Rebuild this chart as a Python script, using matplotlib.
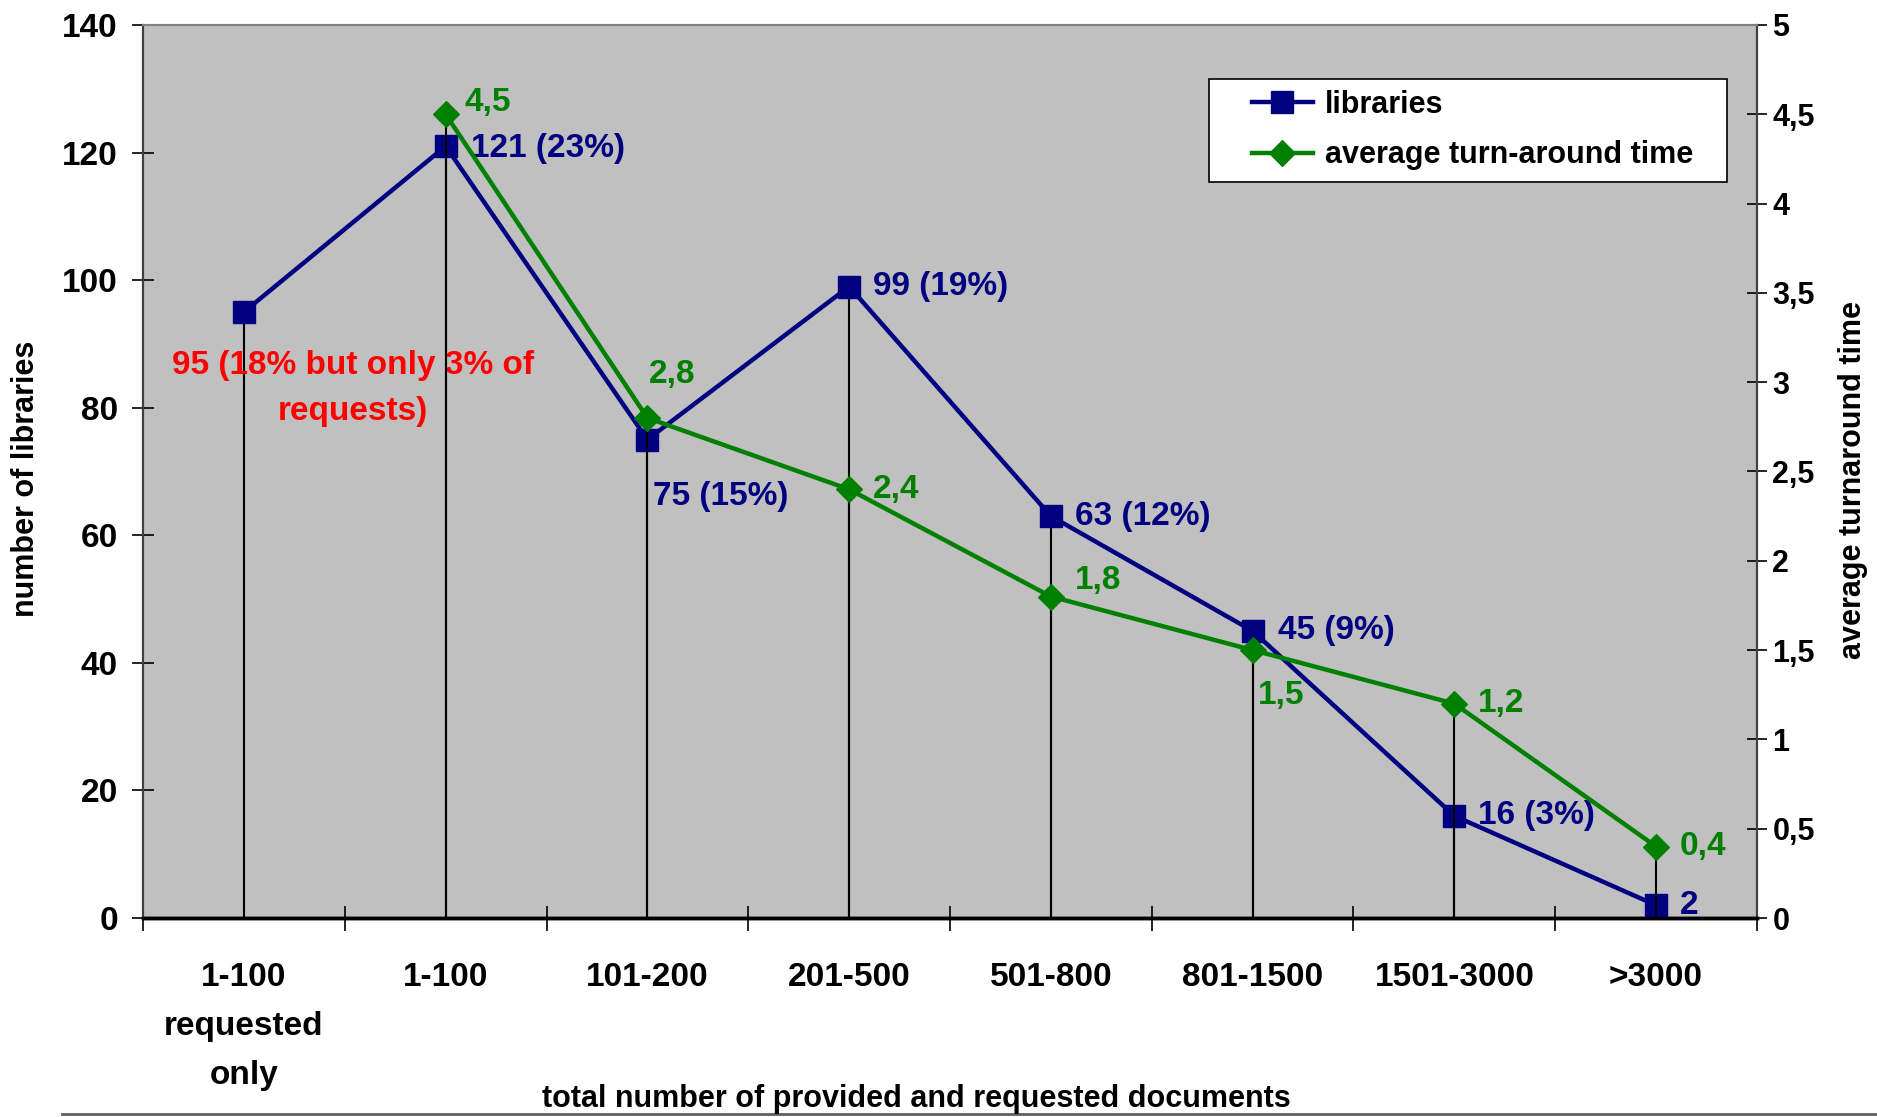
import matplotlib
matplotlib.use('Agg')
import matplotlib.pyplot as plt
from matplotlib.path import Path
from matplotlib.lines import Line2D
from matplotlib.patches import Rectangle

# ---------------- data ----------------
categories = ['1-100\nrequested\nonly', '1-100', '101-200', '201-500',
              '501-800', '801-1500', '1501-3000', '>3000']
libraries = [95, 121, 75, 99, 63, 45, 16, 2]
lib_labels = ['95 (18% but only 3% of\nrequests)', '121 (23%)', '75 (15%)', '99 (19%)',
              '63 (12%)', '45 (9%)', '16 (3%)', '2']
turn_idx = [1, 2, 3, 4, 5, 6, 7]
turnaround = [4.5, 2.8, 2.4, 1.8, 1.5, 1.2, 0.4]
turn_labels = ['4,5', '2,8', '2,4', '1,8', '1,5', '1,2', '0,4']
left_ticks = [0, 20, 40, 60, 80, 100, 120, 140]
right_ticks = [0, 0.5, 1, 1.5, 2, 2.5, 3, 3.5, 4, 4.5, 5]
right_tick_labels = ['0', '0,5', '1', '1,5', '2', '2,5', '3', '3,5', '4', '4,5', '5']

# ---------------- style ----------------
plt.rcParams['font.family'] = ['Liberation Sans', 'DejaVu Sans']
plt.rcParams['font.weight'] = 'bold'
FS = 24
NAVY = '#000080'
GREEN = '#008000'
BG = '#C0C0C0'

# label offsets in pixels (dx, dy)
lib_offsets = [None, (25, -2), (6, -57), (24, 0), (24, 0), (25, 0), (24, 0), (24, 0)]
turn_offsets = [(19, 12), (2, 43), (24, 0), (24, 16), (5, -45), (24, 0), (24, 0)]

W, H = 1877, 1117
fig = plt.figure(figsize=(W / 100, H / 100), dpi=100)
x0, x1, yt, yb = 143, 1757, 25, 918
ax = fig.add_axes([x0 / W, 1 - yb / H, (x1 - x0) / W, (yb - yt) / H])
ax.set_facecolor(BG)
ax2 = ax.twinx()

xs = list(range(len(categories)))
ax.set_xlim(-0.5, len(categories) - 0.5)
ax.set_ylim(0, 140)
ax2.set_ylim(0, 5)

# drop lines
ax.vlines(xs, 0, libraries, colors='black', lw=1.5, zorder=1)
ax2.vlines(turn_idx, 0, turnaround, colors='black', lw=1.5, zorder=1)

# series
ax.plot(xs, libraries, color=NAVY, lw=3.2, marker='s', ms=16.5, mfc=NAVY, mec=NAVY,
        zorder=3, clip_on=False)
diamond = Path([(0, 1), (1, 0), (0, -1), (-1, 0), (0, 1)],
               [Path.MOVETO, Path.LINETO, Path.LINETO, Path.LINETO, Path.CLOSEPOLY])
ax2.plot(turn_idx, turnaround, color=GREEN, lw=3.2, marker=diamond, ms=18.5, mfc=GREEN,
         mec=GREEN, zorder=3, clip_on=False)

# labels
for i, (v, lab) in enumerate(zip(libraries, lib_labels)):
    if i == 0:
        ax.text(0.54, 83, lab, color='red', fontsize=FS, fontweight='bold',
                ha='center', va='center', linespacing=1.65, zorder=2)
    else:
        ax.annotate(lab, (i, v), xytext=lib_offsets[i], textcoords='offset pixels',
                    color=NAVY, fontsize=FS, fontweight='bold', ha='left', va='center')
for k, (i, v, lab) in enumerate(zip(turn_idx, turnaround, turn_labels)):
    ax2.annotate(lab, (i, v), xytext=turn_offsets[k], textcoords='offset pixels',
                 color=GREEN, fontsize=FS, fontweight='bold', ha='left', va='center')

# axes ticks
ax.set_yticks(left_ticks)
ax.tick_params(axis='y', direction='inout', length=16, width=1.2, pad=10, labelsize=FS)
ax.set_xticks(xs)
ax.set_xticklabels(categories, fontsize=FS, fontweight='bold')
for t in ax.get_xticklabels():
    t.set_linespacing(1.75)
ax.tick_params(axis='x', which='major', length=0, pad=32)
ax.set_xticks([x - 0.5 for x in xs] + [len(xs) - 0.5], minor=True)
ax.tick_params(axis='x', which='minor', direction='inout', length=18, width=1.2)

ax2.set_yticks(right_ticks)
ax2.set_yticklabels(right_tick_labels, fontweight='bold', fontsize=22)
ax2.tick_params(axis='y', direction='inout', length=14, width=1.2, pad=4)

for a in (ax, ax2):
    a.spines['top'].set_color('#808080')
    a.spines['top'].set_linewidth(1.5)
    a.spines['left'].set_color('#404040')
    a.spines['left'].set_linewidth(1.5)
    a.spines['right'].set_color('#404040')
    a.spines['right'].set_linewidth(1.5)
    a.spines['bottom'].set_color('black')
    a.spines['bottom'].set_linewidth(2.5)

# legend (frame drawn separately to match the wide box)
handles = [Line2D([], [], color=NAVY, lw=3.2, marker='s', ms=16.5, mfc=NAVY, mec=NAVY),
           Line2D([], [], color=GREEN, lw=3.2, marker=diamond, ms=18.5, mfc=GREEN, mec=GREEN)]
fig.add_artist(Rectangle((1209 / W, 1 - 182 / H), (1727 - 1209) / W, (182 - 79) / H,
                         transform=fig.transFigure, facecolor='white', edgecolor='black',
                         lw=1.2, zorder=9))
leg = fig.legend(handles, ['libraries', 'average turn-around time'],
                 loc='upper left', bbox_to_anchor=(1241 / W, 1 - 79 / H),
                 bbox_transform=fig.transFigure, prop={'size': 22, 'weight': 'bold'},
                 frameon=False, borderpad=0.35, handlelength=2.0, handletextpad=0.4,
                 labelspacing=0.68, borderaxespad=0)
leg.set_zorder(10)

# axis titles
fig.text(26 / W, 1 - 479 / H, 'number of libraries', rotation=90, fontsize=22,
         fontweight='bold', ha='center', va='center')
fig.text(1853 / W, 1 - 480 / H, 'average turnaround time', rotation=90, fontsize=22,
         fontweight='bold', ha='center', va='center')
fig.text(916 / W, 1 - 1099 / H, 'total number of provided and requested documents',
         fontsize=22, fontweight='bold', ha='center', va='center')

# bottom rule
fig.add_artist(Line2D([62 / W, 1.0], [1 - 1114 / H] * 2, color='#606060', lw=2,
                      transform=fig.transFigure))

fig.savefig('out.png', dpi=100, facecolor='white')
